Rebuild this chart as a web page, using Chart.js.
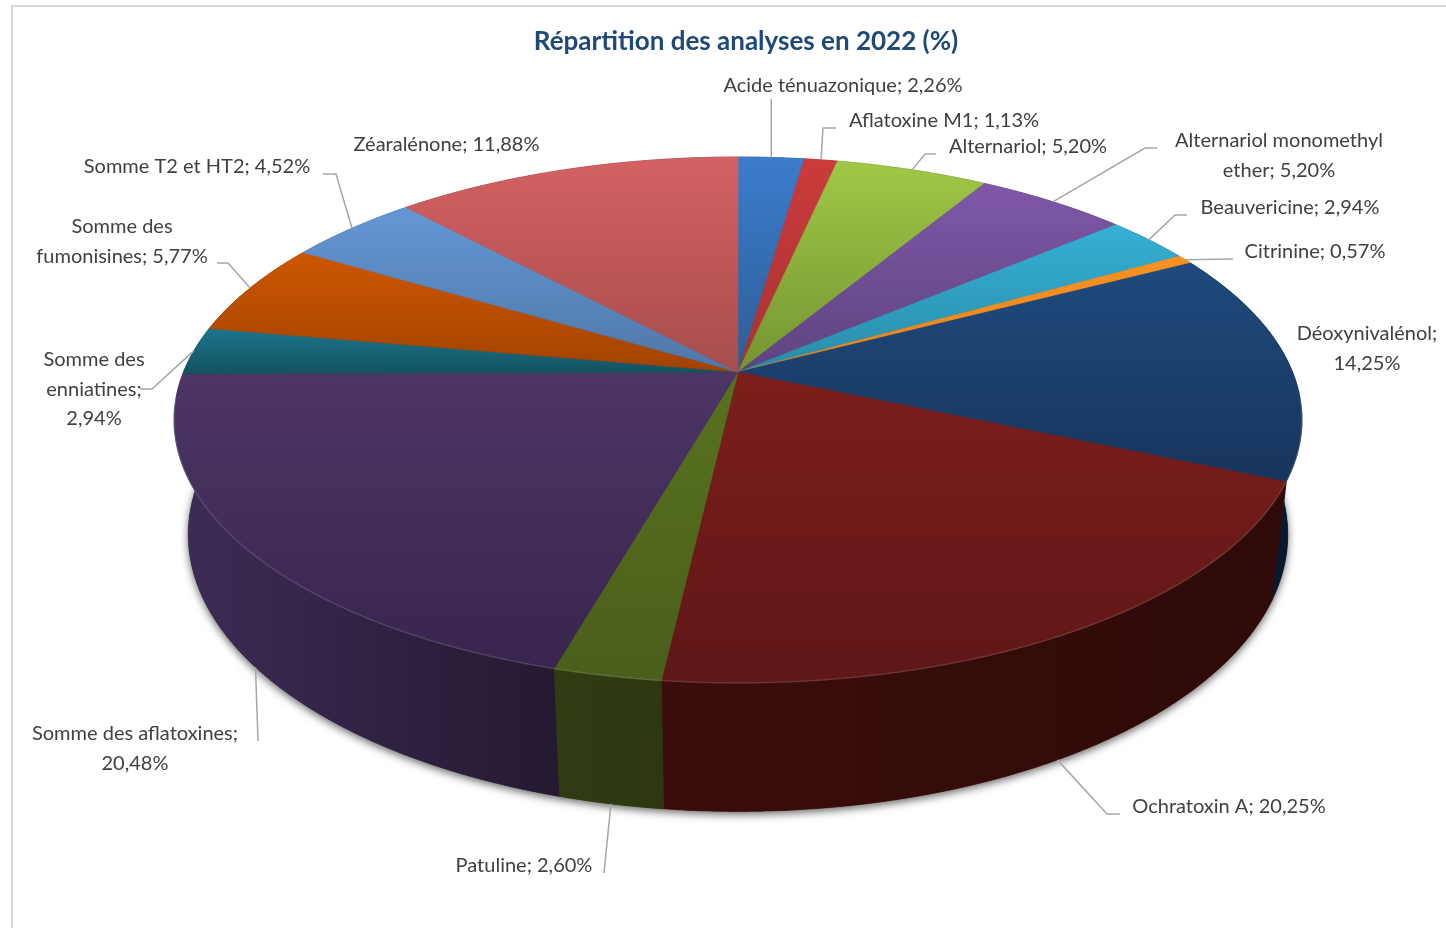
<!DOCTYPE html>
<html lang="fr">
<head>
<meta charset="utf-8">
<title>Répartition des analyses en 2022</title>
<script src="https://cdn.jsdelivr.net/npm/chart.js@4/dist/chart.umd.min.js"></script>
<style>
    html, body { margin: 0; padding: 0; background: #fff; }
    canvas { display: block; }
</style>
</head>
<body>
<canvas id="analysesChart" width="1446" height="928"></canvas>
<script>
const categories = [
    'Acide ténuazonique', 'Aflatoxine M1', 'Alternariol', 'Alternariol monomethyl ether',
    'Beauvericine', 'Citrinine', 'Déoxynivalénol', 'Ochratoxin A', 'Patuline',
    'Somme des aflatoxines', 'Somme des enniatines', 'Somme des fumonisines',
    'Somme T2 et HT2', 'Zéaralénone'
];
const valeurs = [2.26, 1.13, 5.20, 5.20, 2.94, 0.57, 14.25, 20.25, 2.60, 20.48, 2.94, 5.77, 4.52, 11.88];

// couleurs du dessus (haut, bas) et du flanc (gauche, droite)
const couleursHaut = ['#3b7dcc', '#cc3b3b', '#a0c846', '#7f58a8', '#34b0d4', '#f99222', '#1f4a7d', '#7c1e1c', '#58721f', '#4d3566', '#1b768b', '#cd5700', '#6497d6', '#d46161'];
const couleursBas = ['#2c5c96', '#a83232', '#749432', '#5e4380', '#2a8ca8', '#e8851c', '#17355c', '#5f1717', '#4a5f1b', '#38264e', '#14515f', '#a24300', '#4f77a6', '#a74d4d'];
const flancGauche = ['#1c3d66', '#6b1c1c', '#4d6220', '#3c2a55', '#1b5f73', '#a85f12', '#07203b', '#3b0d0a', '#303c12', '#3d2c56', '#0e3a45', '#6d2d00', '#2f4d70', '#6b2f2f'];
const flancDroit = ['#1c3d66', '#6b1c1c', '#4d6220', '#3c2a55', '#1b5f73', '#a85f12', '#06182c', '#2e0a08', '#2d3810', '#241931', '#0e3a45', '#6d2d00', '#2f4d70', '#6b2f2f'];

// texte : retours a la ligne (nombre de mots), centre des lignes, coude du trait de rappel
const etiquettes = [
    { coupes: [], x: 843, y: 86, coude: null },
    { coupes: [], x: 944, y: 121, coude: [[836, 128], [823, 128]] },
    { coupes: [], x: 1028, y: 147, coude: [[936, 154], [925, 154]] },
    { coupes: [2], x: 1279, y: 141, coude: [[1157, 148], [1145, 148]] },
    { coupes: [], x: 1290, y: 208, coude: [[1187, 215], [1175, 215]] },
    { coupes: [], x: 1315, y: 252, coude: [[1233, 259]] },
    { coupes: [1], x: 1367, y: 334, pasDeTrait: true },
    { coupes: [], x: 1229, y: 807, coude: [[1120, 814], [1107, 814]] },
    { coupes: [], x: 524, y: 866, coude: [[604, 873]] },
    { coupes: [3], x: 135, y: 734, coude: [[258, 741]] },
    { coupes: [2, 3], x: 94, y: 360, coude: [[140, 389], [152, 389]] },
    { coupes: [2], x: 122, y: 227, coude: [[217, 263], [228, 263]] },
    { coupes: [], x: 197, y: 167, coude: [[323, 174], [336, 174]] },
    { coupes: [], x: 446.5, y: 145, pasDeTrait: true }
];

// camera du camembert : centre, demi-axes, fuite et epaisseur
const CX = 738, CY = 372, DEMI_X = 554.5, DEMI_Y = 254.2, FUITE = 0.1825, FUITE_BAS = 0.025, EPAISSEUR = 116;

function projeter(angle, h) {
    const w = 1 - FUITE * Math.sin(angle) + FUITE_BAS * h;
    return {
        x: CX + DEMI_X * Math.cos(angle) / w,
        y: CY + (DEMI_Y * Math.sin(angle) + EPAISSEUR * h) / w
    };
}

function pointsArc(debut, fin, h) {
    const pas = Math.max(8, Math.ceil((fin - debut) / 0.006));
    const points = [];
    for (let i = 0; i <= pas; i++) {
        points.push(projeter(debut + (fin - debut) * i / pas, h));
    }
    return points;
}

function tracer(ctx, points) {
    ctx.beginPath();
    points.forEach((p, i) => i ? ctx.lineTo(p.x, p.y) : ctx.moveTo(p.x, p.y));
    ctx.closePath();
}

function dessinerOmbre(ctx) {
    ctx.save();
    ctx.shadowColor = 'rgba(0, 0, 0, 0.6)';
    ctx.shadowBlur = 9;
    ctx.shadowOffsetY = 3;
    ctx.fillStyle = '#222';
    tracer(ctx, pointsArc(0, Math.PI * 2, 1));
    ctx.fill();
    ctx.restore();
}

function dessinerFlanc(ctx, arc, i) {
    const haut = pointsArc(arc.startAngle, arc.endAngle, 0);
    const bas = pointsArc(arc.startAngle, arc.endAngle, 1).reverse();
    const points = haut.concat(bas);
    const xs = points.map(p => p.x);
    const fond = ctx.createLinearGradient(Math.min(...xs), 0, Math.max(...xs), 0);
    fond.addColorStop(0, flancGauche[i]);
    fond.addColorStop(1, flancDroit[i]);
    ctx.fillStyle = fond;
    ctx.strokeStyle = fond;
    ctx.lineWidth = 0.6;
    tracer(ctx, points);
    ctx.fill();
    ctx.stroke();
}

function dessinerDessus(ctx, arc, i) {
    const bord = pointsArc(arc.startAngle, arc.endAngle, 0);
    const points = [{ x: CX, y: CY }].concat(bord);
    const ys = points.map(p => p.y);
    const fond = ctx.createLinearGradient(0, Math.min(...ys), 0, Math.max(...ys));
    fond.addColorStop(0, couleursHaut[i]);
    fond.addColorStop(1, couleursBas[i]);
    ctx.fillStyle = fond;
    ctx.strokeStyle = fond;
    ctx.lineWidth = 0.6;
    tracer(ctx, points);
    ctx.fill();
    ctx.stroke();

    // liseré clair sur l'arete avant
    const avant = bord.filter((p, n) => {
        const t = arc.startAngle + (arc.endAngle - arc.startAngle) * n / (bord.length - 1);
        return Math.sin(t) > 0.1;
    });
    if (avant.length > 1) {
        ctx.beginPath();
        avant.forEach((p, n) => n ? ctx.lineTo(p.x, p.y) : ctx.moveTo(p.x, p.y));
        ctx.strokeStyle = 'rgba(255, 255, 255, 0.13)';
        ctx.lineWidth = 1.5;
        ctx.stroke();
    }
}

function texteEtiquette(i) {
    const mots = `${categories[i]}; ${valeurs[i].toFixed(2).replace('.', ',')}%`.split(' ');
    const lignes = [];
    let depart = 0;
    etiquettes[i].coupes.concat(mots.length).forEach(fin => {
        lignes.push(mots.slice(depart, fin).join(' '));
        depart = fin;
    });
    return lignes;
}

function dessinerEtiquettes(ctx, arcs) {
    arcs.forEach((arc, i) => {
        const e = etiquettes[i];
        if (!e.pasDeTrait) {
            const milieu = (arc.startAngle + arc.endAngle) / 2;
            const ancre = projeter(milieu, Math.sin(milieu) > 0.3 ? 1 : 0);
            const chemin = (e.coude || [[ancre.x, 99]]).concat([[ancre.x, ancre.y]]);
            ctx.beginPath();
            chemin.forEach((p, n) => n ? ctx.lineTo(p[0], p[1]) : ctx.moveTo(p[0], p[1]));
            ctx.strokeStyle = '#a6a6a6';
            ctx.lineWidth = 1.5;
            ctx.stroke();
        }
        ctx.font = '20px Lato';
        ctx.fillStyle = '#404040';
        ctx.textAlign = 'center';
        ctx.textBaseline = 'middle';
        texteEtiquette(i).forEach((ligne, n) => {
            ctx.fillText(ligne, e.x, e.y + n * 29.3);
        });
    });
}

const camembert3d = {
    id: 'camembert3d',
    beforeDraw(chart) {
        // cadre du graphique
        const ctx = chart.ctx;
        ctx.save();
        ctx.strokeStyle = '#d9d9d9';
        ctx.lineWidth = 2;
        ctx.beginPath();
        ctx.moveTo(12, 928);
        ctx.lineTo(12, 6);
        ctx.lineTo(1446, 6);
        ctx.stroke();
        ctx.restore();
    },
    beforeDatasetsDraw(chart) {
        const ctx = chart.ctx;
        const arcs = chart.getDatasetMeta(0).data;
        const ordre = arcs.map((arc, i) => i).sort((a, b) =>
            Math.sin((arcs[a].startAngle + arcs[a].endAngle) / 2) - Math.sin((arcs[b].startAngle + arcs[b].endAngle) / 2));
        ctx.save();
        dessinerOmbre(ctx);
        ordre.forEach(i => dessinerFlanc(ctx, arcs[i], i));
        arcs.forEach((arc, i) => dessinerDessus(ctx, arc, i));
        ctx.restore();
        return false;
    },
    afterDraw(chart) {
        const ctx = chart.ctx;
        ctx.save();
        dessinerEtiquettes(ctx, chart.getDatasetMeta(0).data);
        ctx.restore();
    }
};

new Chart(document.getElementById('analysesChart').getContext('2d'), {
    type: 'pie',
    data: {
        labels: categories,
        datasets: [{ data: valeurs, backgroundColor: couleursHaut, borderWidth: 0 }]
    },
    options: {
        responsive: false,
        animation: false,
        layout: { padding: { left: 46 } },
        plugins: {
            legend: { display: false },
            tooltip: { enabled: false },
            title: {
                display: true,
                fullSize: false,
                text: 'Répartition des analyses en 2022 (%)',
                color: '#1f4979',
                font: { family: 'Lato', size: 26, weight: 'bold' },
                padding: { top: 26, bottom: 10 }
            }
        }
    },
    plugins: [camembert3d]
});
</script>
</body>
</html>
